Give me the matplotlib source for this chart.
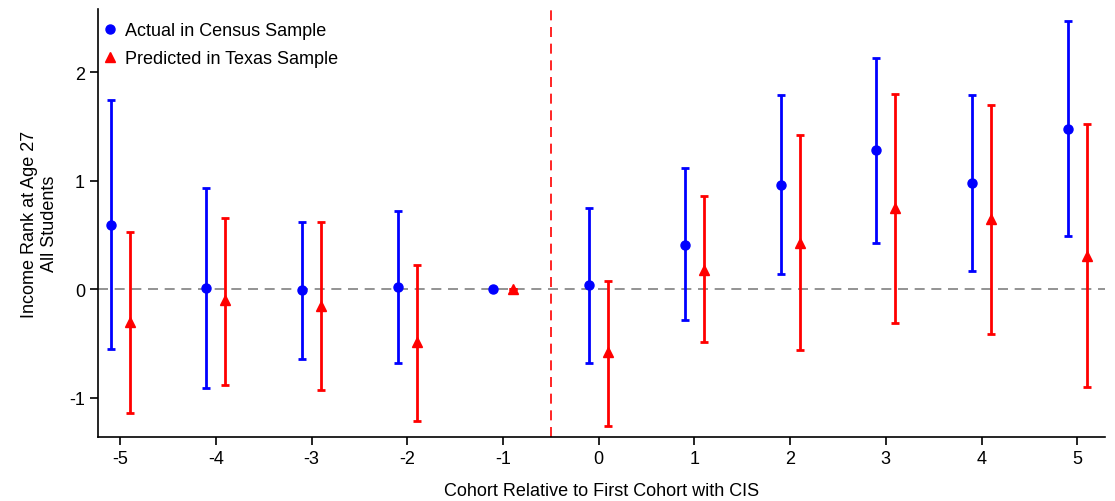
import numpy as np
import matplotlib.pyplot as plt
from matplotlib.lines import Line2D

plt.rcParams['font.family'] = ['Liberation Sans', 'DejaVu Sans']
plt.rcParams['axes.unicode_minus'] = False

# cohort relativo al primer cohort con CIS
cohortes = [-5, -4, -3, -2, -1, 0, 1, 2, 3, 4, 5]

# censo (azul)
censo = [0.59, 0.01, -0.01, 0.02, 0.0, 0.04, 0.41, 0.96, 1.28, 0.98, 1.48]
censo_alto = [1.74, 0.93, 0.62, 0.72, 0.0, 0.75, 1.12, 1.79, 2.13, 1.79, 2.47]
censo_bajo = [-0.55, -0.91, -0.64, -0.68, 0.0, -0.68, -0.28, 0.14, 0.43, 0.17, 0.49]

# texas (rojo)
texas = [-0.30, -0.10, -0.15, -0.49, 0.0, -0.58, 0.18, 0.43, 0.75, 0.65, 0.31]
texas_alto = [0.53, 0.66, 0.62, 0.22, 0.0, 0.08, 0.86, 1.42, 1.80, 1.70, 1.52]
texas_bajo = [-1.14, -0.88, -0.93, -1.21, 0.0, -1.26, -0.49, -0.56, -0.31, -0.41, -0.90]

x = np.array(cohortes, dtype=float)
c = np.array(censo)
t = np.array(texas)
err_c = [c - np.array(censo_bajo), np.array(censo_alto) - c]
err_t = [t - np.array(texas_bajo), np.array(texas_alto) - t]

fig = plt.figure(figsize=(11.15, 5.02), dpi=100)
ax = fig.add_axes([0.088, 0.1275, 0.903, 0.8525])

ax.axhline(0, color='gray', linestyle=(0, (6, 4)), linewidth=1.2, zorder=1)
ax.axvline(-0.5, color='red', linestyle=(0, (6, 4)), linewidth=1.2, zorder=1)

ax.errorbar(x - 0.1, c, yerr=err_c, fmt='o', color='blue', ecolor='blue',
            markersize=6.5, elinewidth=2, capsize=3, capthick=2, zorder=3)
ax.errorbar(x + 0.1, t, yerr=err_t, fmt='^', color='red', ecolor='red',
            markersize=7.5, elinewidth=2, capsize=3, capthick=2, zorder=3)

ax.set_xlim(-5.23, 5.29)
ax.set_ylim(-1.36, 2.58)
ax.set_xticks(cohortes)
ax.set_yticks([-1, 0, 1, 2])
ax.tick_params(labelsize=13, length=6, width=1.2, direction='out')
for s in ['top', 'right']:
    ax.spines[s].set_visible(False)
for s in ['left', 'bottom']:
    ax.spines[s].set_linewidth(1.2)

ax.set_xlabel('Cohort Relative to First Cohort with CIS', fontsize=13, labelpad=11)
ax.set_ylabel('Income Rank at Age 27\nAll Students', fontsize=13,
              multialignment='center', labelpad=8)

# leyenda solo con marcadores
handles = [Line2D([], [], marker='o', color='blue', linestyle='none', markersize=6.5),
           Line2D([], [], marker='^', color='red', linestyle='none', markersize=7.5)]
ax.legend(handles, ['Actual in Census Sample', 'Predicted in Texas Sample'],
          loc='upper left', frameon=False, fontsize=13, handletextpad=0.35,
          handlelength=1.0, borderaxespad=0.1, labelspacing=0.6,
          bbox_to_anchor=(-0.006, 0.99))

fig.savefig('out.png', dpi=100)
